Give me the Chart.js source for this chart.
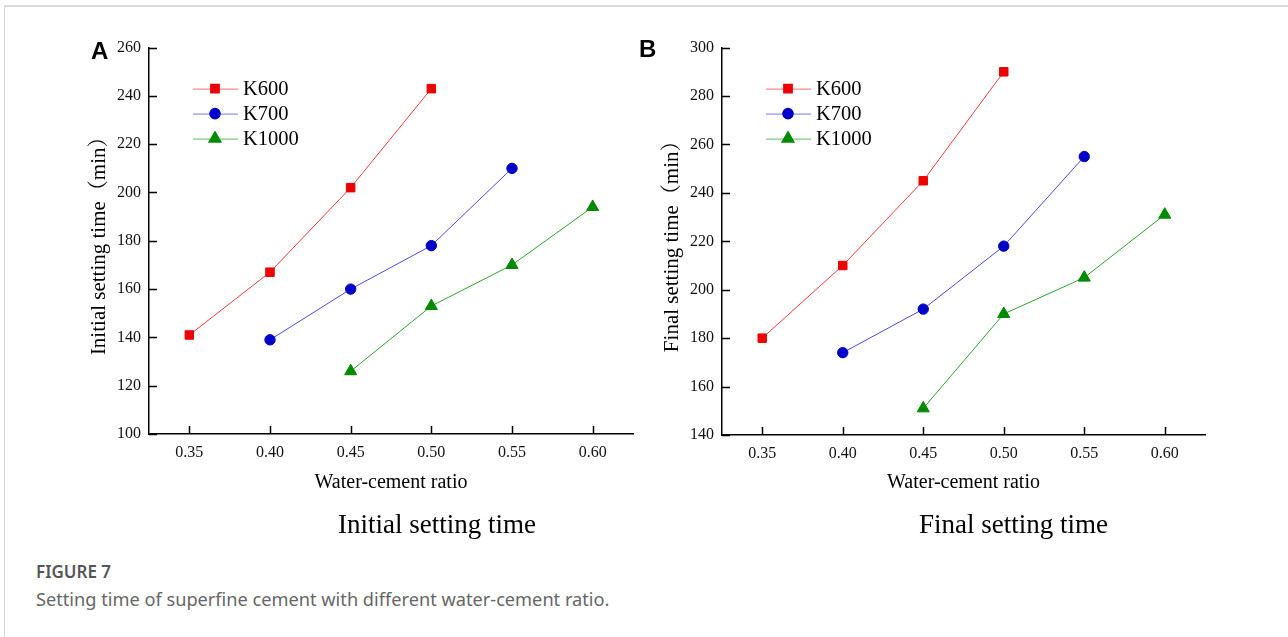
<!DOCTYPE html>
<html>
<head>
<meta charset="utf-8">
<script src="https://cdn.jsdelivr.net/npm/chart.js@4/dist/chart.umd.min.js"></script>
<style>
  html, body { margin: 0; padding: 0; background: #fff; }
  body { width: 1288px; height: 637px; position: relative; overflow: hidden; }
  .frame { position: absolute; left: 4px; top: 5px; width: 1290px; height: 640px;
           border-left: 1px solid #d8d8d8; border-top: 2px solid #dcdcdc; }
  .wrap { position: absolute; width: 600px; height: 480px; }
  .panel { position: absolute; font: bold 24px 'Liberation Sans', Arial, sans-serif; color: #000; }
  .sub { position: absolute; top: 509px; font: 27px 'Liberation Serif', 'Times New Roman', serif; color: #000; }
  .figno { position: absolute; left: 36px; top: 560px; font: 600 17px 'Noto Sans', sans-serif; color: #555; }
  .caption { position: absolute; left: 36px; top: 587px; font: 18.2px 'Noto Sans', sans-serif; color: #666; }
</style>
</head>
<body>
<div class="frame"></div>
<div class="wrap" style="left:60px;top:30px"><canvas id="chartA" width="600" height="480"></canvas></div>
<div class="wrap" style="left:633px;top:30px"><canvas id="chartB" width="600" height="480"></canvas></div>
<div class="panel" style="left:91px;top:37px">A</div>
<div class="panel" style="left:639px;top:35px">B</div>
<div class="sub" style="left:338px">Initial setting time</div>
<div class="sub" style="left:919px">Final setting time</div>
<div class="figno">FIGURE 7</div>
<div class="caption">Setting time of superfine cement with different water-cement ratio.</div>
<script>
// water-cement ratio (x)
const ratios = [0.35, 0.40, 0.45, 0.50, 0.55, 0.60];
const seriesNames = ['K600', 'K700', 'K1000'];

// initial setting time (min)
const initK600  = [141, 167, 202, 243, null, null];
const initK700  = [null, 139, 160, 178, 210, null];
const initK1000 = [null, null, 126, 153, 170, 194];

// final setting time (min)
const finalK600  = [180, 210, 245, 290, null, null];
const finalK700  = [null, 174, 192, 218, 255, null];
const finalK1000 = [null, null, 151, 190, 205, 231];

const initTicks  = [100, 120, 140, 160, 180, 200, 220, 240, 260];
const finalTicks = [140, 160, 180, 200, 220, 240, 260, 280, 300];

const serif = "'Liberation Serif', 'Times New Roman', 'Noto Serif CJK SC', 'Noto Sans CJK SC', serif";

const styles = [
  { line: '#ff3838', fill: '#ee0000', shape: 'rect', r: 6 },
  { line: '#4a4ae6', fill: '#0000c8', shape: 'circle', r: 5.2 },
  { line: '#2aa52a', fill: '#008a00', shape: 'triangle', r: 7 }
];

function toPoints(vals) {
  return ratios.map((x, i) => vals[i] == null ? null : { x: x, y: vals[i] }).filter(p => p);
}

// small inward tick marks on both axes
const inwardTicks = {
  id: 'inwardTicks',
  afterDatasetsDraw(chart) {
    const ctx = chart.ctx, xs = chart.scales.x, ys = chart.scales.y;
    ctx.save();
    ctx.strokeStyle = '#000';
    ctx.lineWidth = 1.5;
    ctx.beginPath();
    xs.ticks.forEach(t => {
      const px = Math.round(xs.getPixelForValue(t.value)) + 0.5;
      ctx.moveTo(px, ys.bottom);
      ctx.lineTo(px, ys.bottom - 8);
    });
    ys.ticks.forEach(t => {
      const py = Math.round(ys.getPixelForValue(t.value)) + 0.5;
      ctx.moveTo(xs.left, py);
      ctx.lineTo(xs.left + 8, py);
    });
    ctx.stroke();
    ctx.restore();
  }
};

// legend drawn inside the plot: line - marker - line, then name
const innerLegend = {
  id: 'innerLegend',
  afterDraw(chart) {
    const ctx = chart.ctx, a = chart.chartArea;
    ctx.save();
    chart.data.datasets.forEach((ds, i) => {
      const st = styles[i];
      const y = a.top + 41 + i * 25;
      const x0 = a.left + 44, x1 = a.left + 89, xm = a.left + 66;
      ctx.strokeStyle = st.line;
      ctx.globalAlpha = 0.6;
      ctx.lineWidth = 1.2;
      ctx.beginPath();
      ctx.moveTo(x0, y + 0.5);
      ctx.lineTo(x1, y + 0.5);
      ctx.stroke();
      ctx.globalAlpha = 1;
      ctx.fillStyle = st.fill;
      ctx.strokeStyle = st.fill;
      Chart.helpers.drawPoint(ctx, { pointStyle: st.shape, radius: st.r, rotation: 0, borderWidth: 1 }, xm, y);
      ctx.fillStyle = '#000';
      ctx.font = '20.5px ' + serif;
      ctx.textBaseline = 'middle';
      ctx.fillText(ds.label, a.left + 94, y + 1);
    });
    ctx.restore();
  }
};

function makeChart(id, vals, yTicks, yTitle, pad, xHeight) {
  const datasets = vals.map((v, i) => ({
    label: seriesNames[i],
    data: toPoints(v),
    borderColor: styles[i].line,
    borderWidth: 1,
    pointStyle: styles[i].shape,
    pointRadius: styles[i].r,
    pointHoverRadius: styles[i].r,
    pointBackgroundColor: styles[i].fill,
    pointBorderColor: styles[i].fill,
    pointBorderWidth: 1,
    tension: 0
  }));
  return new Chart(document.getElementById(id), {
    type: 'line',
    data: { datasets },
    options: {
      responsive: false,
      animation: false,
      layout: { padding: pad },
      plugins: { legend: { display: false }, tooltip: { enabled: false } },
      scales: {
        x: {
          type: 'linear',
          min: 0.325, max: 0.625,
          afterBuildTicks: s => { s.ticks = ratios.map(v => ({ value: v })); },
          afterFit: s => { s.height = xHeight; },
          grid: { display: false, drawTicks: false },
          border: { display: true, color: '#000', width: 1.5 },
          ticks: { color: '#111', padding: 9, font: { family: serif, size: 16 },
                   callback: v => Number(v).toFixed(2) },
          title: { display: true, text: 'Water-cement ratio', color: '#000',
                   font: { family: serif, size: 20 }, padding: { top: 0, bottom: 15 } }
        },
        y: {
          min: yTicks[0], max: yTicks[yTicks.length - 1],
          afterBuildTicks: s => { s.ticks = yTicks.map(v => ({ value: v })); },
          afterFit: s => { s.width = 89; },
          grid: { display: false, drawTicks: false },
          border: { display: true, color: '#000', width: 1.5 },
          ticks: { color: '#111', padding: 8, font: { family: serif, size: 16 } },
          title: { display: true, text: yTitle, color: '#000',
                   font: { family: serif, size: 21 }, padding: { top: 27, bottom: 0 } }
        }
      }
    },
    plugins: [inwardTicks, innerLegend]
  });
}

makeChart('chartA', [initK600, initK700, initK1000], initTicks, 'Initial setting time（min）',
          { left: 0, top: 15, right: 27, bottom: 0 }, 76);
makeChart('chartB', [finalK600, finalK700, finalK1000], finalTicks, 'Final setting time（min）',
          { left: 0, top: 17, right: 28, bottom: 0 }, 75);
</script>
</body>
</html>
